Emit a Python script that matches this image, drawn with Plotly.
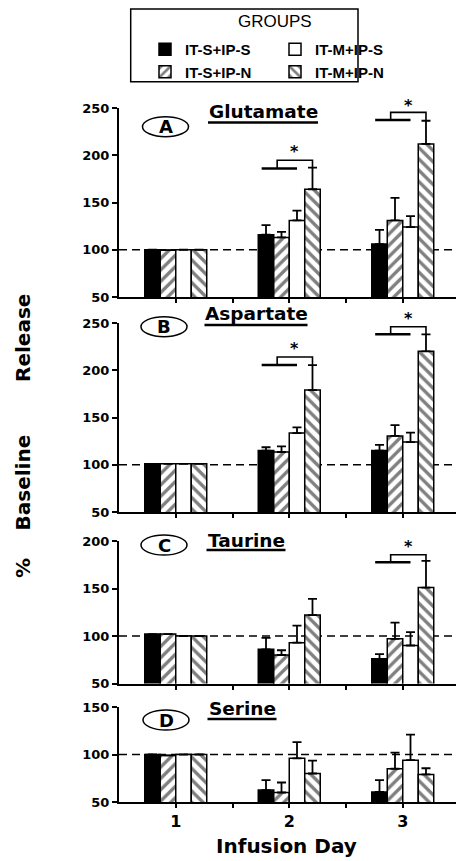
import plotly.graph_objects as go

W, H = 456, 861

days = [1, 2, 3]
groups = ["IT-S+IP-S", "IT-S+IP-N", "IT-M+IP-S", "IT-M+IP-N"]
panel_names = ["Glutamate", "Aspartate", "Taurine", "Serine"]
panel_letters = ["A", "B", "C", "D"]
x_ticklabels = ["1", "2", "3"]

# mean % baseline per group (rows follow `groups`), columns = days
glu_mean = [[100, 116, 106], [99.5, 113, 131], [100, 131, 124], [100, 164, 212]]
glu_err = [[0, 10, 15], [0, 6, 24], [0, 10.5, 11.5], [0, 23, 24.5]]
asp_mean = [[101, 115, 115], [101, 113.5, 130.5], [101, 133.5, 124], [101, 179, 220]]
asp_err = [[0, 3.5, 6], [0, 6, 11.5], [0, 6, 10], [0, 26.5, 18]]
tau_mean = [[102, 86, 76], [102, 80, 97], [100, 93, 90], [100, 122, 151]]
tau_err = [[0, 12, 5], [0, 5, 17], [0, 18, 14], [0, 17, 28]]
ser_mean = [[100, 62.5, 60.5], [99, 60, 85], [100, 96, 94], [100, 80, 79]]
ser_err = [[0, 10.5, 12.5], [0, 10.5, 17], [0, 17, 27], [0, 13.5, 6.5]]

panel_means = [glu_mean, asp_mean, tau_mean, ser_mean]
panel_errs = [glu_err, asp_err, tau_err, ser_err]
y_ranges = [[50, 250], [50, 250], [50, 200], [50, 150]]

# significance brackets: (panel index, day, line level, top level, star level)
sig_panel = [0, 0, 1, 1, 2]
sig_day = [2, 3, 2, 3, 3]
sig_line = [186, 237.3, 205.6, 238, 177.6]
sig_top = [194.7, 245.4, 214, 246, 185.6]
sig_star = [203.5, 253, 222.5, 255, 194.7]

# ---- styling -----
FONT = "DejaVu Sans"
LEGFONT = "Liberation Sans"
fills = ["black", "white", "white", "white"]
shapes_pat = ["", "/", "", "\\"]
ranks = [1, 3, 2, 4]

# panel pixel extents (top, bottom)
panel_px = [(108, 297), (323, 512), (541, 683.5), (707, 802)]
ML = 119  # left margin = y-axis position
PW = W - ML
px_per_day = 113.5
x_range = [0.5, 0.5 + PW / px_per_day]


def fy(p):
    return 1 - p / H


def fx(p):
    return (p - ML) / PW


def val_to_px(pi, v):
    top, bot = panel_px[pi]
    lo, hi = y_ranges[pi]
    return top + (hi - v) * (bot - top) / (hi - lo)


fig = go.Figure()

for pi in range(4):
    ax = "" if pi == 0 else str(pi + 1)
    for gi, g in enumerate(groups):
        fig.add_trace(go.Bar(
            x=days, y=panel_means[pi][gi], name=g,
            xaxis="x" + ax, yaxis="y" + ax,
            marker=dict(color=fills[gi], line=dict(color="black", width=1.5),
                        pattern=dict(shape=shapes_pat[gi], fgcolor="black", bgcolor="white",
                                     size=8, solidity=0.42)),
            error_y=dict(type="data", symmetric=False, array=panel_errs[pi][gi],
                         arrayminus=[0, 0, 0], color="black", thickness=1.8, width=4.5),
            showlegend=(pi == 0), legendrank=ranks[gi],
            offsetgroup=str(gi),
        ))

layout = dict(
    width=W, height=H, margin=dict(l=ML, r=0, t=0, b=0, autoexpand=False),
    paper_bgcolor="white", plot_bgcolor="white",
    barmode="group", bargap=0.454, bargroupgap=0,
    font=dict(family=FONT, color="black"),
    legend=dict(orientation="h", x=fx(145), y=fy(33), xanchor="left", yanchor="top",
                entrywidth=85, font=dict(family=LEGFONT, size=15, weight="bold"),
                bgcolor="rgba(0,0,0,0)", borderwidth=0, itemwidth=30),
)

for pi in range(4):
    ax = "" if pi == 0 else str(pi + 1)
    top, bot = panel_px[pi]
    bottom = pi == 3
    layout["xaxis" + ax] = dict(
        domain=[0, 1], range=x_range, anchor="y" + ax,
        showline=True, linecolor="black", linewidth=2,
        tickmode="array", tickvals=[1, 1.5, 2, 2.5, 3],
        ticktext=([x_ticklabels[0], "", x_ticklabels[1], "", x_ticklabels[2]] if bottom else [""] * 5),
        ticks="outside", ticklen=4, tickwidth=1.5, tickcolor="black",
        tickfont=dict(family=FONT, size=16, weight="bold"),
        showgrid=False, zeroline=False, fixedrange=True,
    )
    layout["yaxis" + ax] = dict(
        domain=[fy(bot), fy(top)], range=y_ranges[pi], anchor="x" + ax,
        showline=True, linecolor="black", linewidth=2,
        dtick=50, tick0=50, ticks="outside", ticklen=5, tickwidth=1.5, tickcolor="black",
        tickfont=dict(family=FONT, size=13, weight="bold"),
        showgrid=False, zeroline=False, fixedrange=True,
    )

shapes = []
annotations = []

# dashed baseline at 100
for pi in range(4):
    ax = "" if pi == 0 else str(pi + 1)
    shapes.append(dict(type="line", xref="x" + ax + " domain", yref="y" + ax,
                       x0=0, x1=1, y0=100, y1=100, layer="below",
                       line=dict(color="black", width=1.6, dash="8px,5px")))

# significance brackets
bar_w = (1 - 0.454) / 4
for k in range(len(sig_day)):
    pi = sig_panel[k]
    ax = "" if pi == 0 else str(pi + 1)
    d = sig_day[k]
    xl0 = d - 2 * bar_w + 0.03
    xl1 = d + 0.5 * bar_w
    leg_l = d - bar_w + 0.03
    leg_r = d + 1.5 * bar_w
    shapes.append(dict(type="line", xref="x" + ax, yref="y" + ax, x0=xl0, x1=xl1,
                       y0=sig_line[k], y1=sig_line[k], line=dict(color="black", width=2.5)))
    shapes.append(dict(type="path", xref="x" + ax, yref="y" + ax,
                       path=f"M{leg_l},{sig_line[k]} L{leg_l},{sig_top[k]} L{leg_r},{sig_top[k]} L{leg_r},{sig_line[k]}",
                       line=dict(color="black", width=1.6)))
    annotations.append(dict(xref="x" + ax, yref="paper", x=(leg_l + leg_r) / 2,
                            y=fy(val_to_px(pi, sig_star[k])),
                            text="*", showarrow=False, font=dict(family=FONT, size=16, weight="bold"),
                            yanchor="middle"))

# panel letters in ellipses and titles
ell_c = [(165.5, 126.7), (164, 326.7), (164, 545), (166, 720)]
title_c = [(263, 111.5), (256, 313), (246, 540), (242, 708)]
title_w = [110, 103, 79, 69]
ul_y = [122.5, 325, 550, 719]
for pi in range(4):
    cx, cy = ell_c[pi]
    shapes.append(dict(type="circle", xref="paper", yref="paper",
                       x0=fx(cx - 23), x1=fx(cx + 23), y0=fy(cy + 10), y1=fy(cy - 10),
                       line=dict(color="black", width=1.5)))
    annotations.append(dict(xref="paper", yref="paper", x=fx(cx), y=fy(cy), text=panel_letters[pi],
                            showarrow=False, font=dict(family=FONT, size=18, weight="bold"),
                            xanchor="center", yanchor="middle"))
    tx, ty = title_c[pi]
    annotations.append(dict(xref="paper", yref="paper", x=fx(tx), y=fy(ty), text=panel_names[pi],
                            showarrow=False, font=dict(family=FONT, size=18.5, weight="bold"),
                            xanchor="center", yanchor="middle"))
    shapes.append(dict(type="line", xref="paper", yref="paper",
                       x0=fx(tx - title_w[pi] / 2), x1=fx(tx + title_w[pi] / 2),
                       y0=fy(ul_y[pi]), y1=fy(ul_y[pi]), line=dict(color="black", width=2.5)))

# axis titles
annotations.append(dict(xref="paper", yref="paper", x=fx(286.5), y=fy(846), text="Infusion Day",
                        showarrow=False, font=dict(family=FONT, size=20, weight="bold"),
                        xanchor="center", yanchor="middle"))
for txt, yc in [("Release", 338), ("Baseline", 482.5), ("%", 568)]:
    annotations.append(dict(xref="paper", yref="paper", x=fx(23), y=fy(yc), text=txt,
                            showarrow=False, textangle=-90,
                            font=dict(family=FONT, size=20, weight="bold"),
                            xanchor="center", yanchor="middle"))

# legend box and title
shapes.append(dict(type="rect", xref="paper", yref="paper", x0=fx(130.7), x1=fx(358),
                   y0=fy(81.7), y1=fy(9), line=dict(color="black", width=1.5)))
annotations.append(dict(xref="paper", yref="paper", x=fx(275), y=fy(21), text="GROUPS",
                        showarrow=False, font=dict(family=LEGFONT, size=17),
                        xanchor="center", yanchor="middle"))

layout["shapes"] = shapes
layout["annotations"] = annotations
fig.update_layout(**layout)
fig.write_html("out.html")
